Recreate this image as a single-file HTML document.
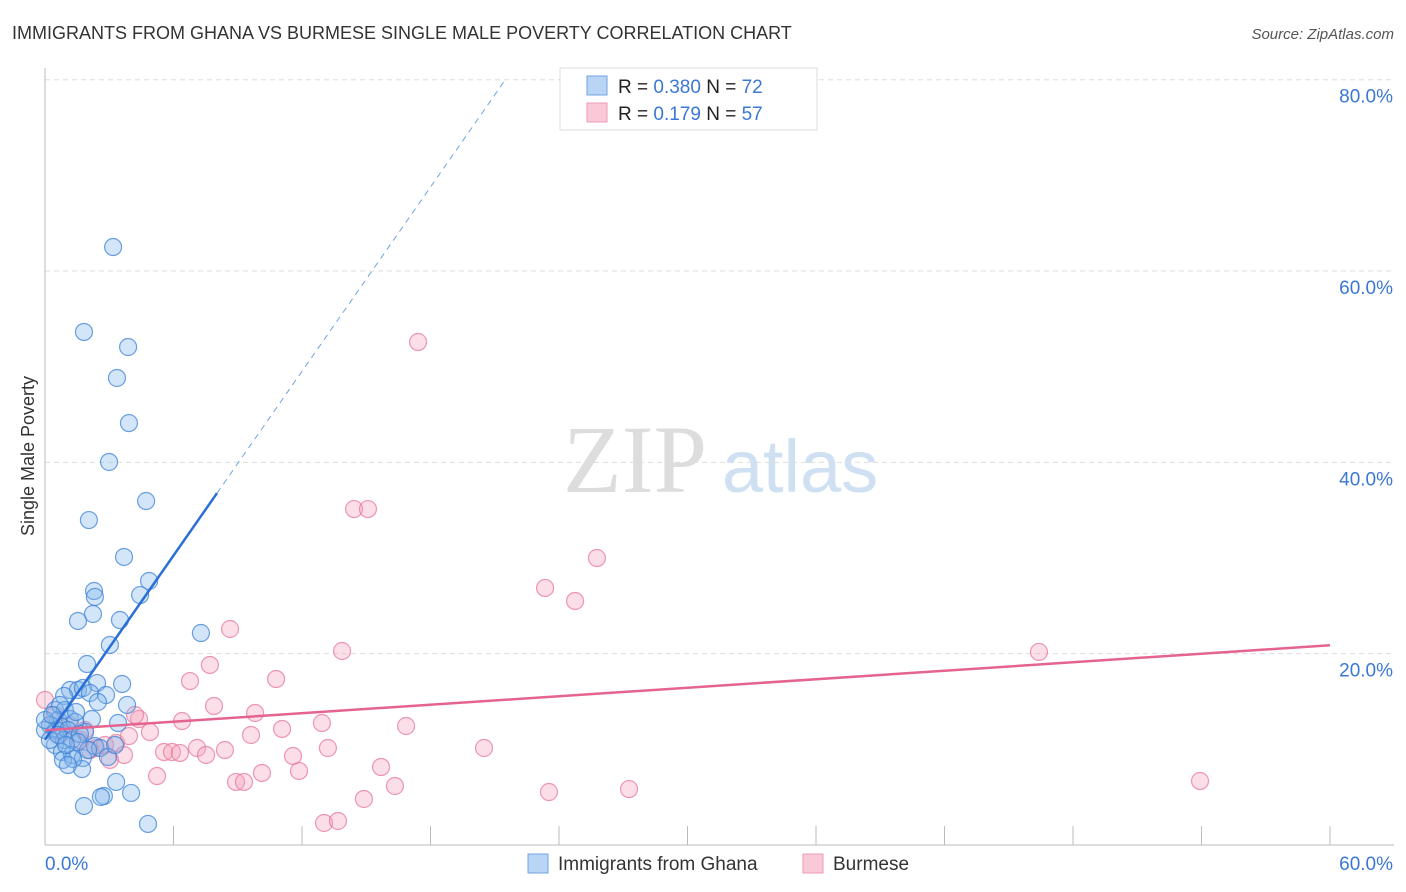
<!DOCTYPE html>
<html><head><meta charset="utf-8"><style>
body{margin:0;background:#fff;font-family:"Liberation Sans",sans-serif}
svg{display:block}
</style></head><body>
<svg id="chart" width="1406" height="892">
<text x="12" y="39" font-size="18" fill="#333">IMMIGRANTS FROM GHANA VS BURMESE SINGLE MALE POVERTY CORRELATION CHART</text>
<text x="1394" y="39" font-size="15" fill="#555" font-style="italic" text-anchor="end">Source: ZipAtlas.com</text>
<text x="0" y="0" transform="translate(34,456) rotate(-90)" font-size="18" fill="#333" text-anchor="middle">Single Male Poverty</text>
<g><text x="635" y="492" font-size="96" fill="#ddd" font-family="Liberation Serif" text-anchor="middle">ZIP</text><text x="800" y="492" font-size="74" fill="#cfe0f3" text-anchor="middle">atlas</text></g>
<g id="grid"></g><g id="axes"></g><g id="pts"></g><g id="trend"></g>
<g>
<rect x="560" y="68" width="257" height="62" fill="#fff" stroke="#ddd"/>
<rect x="587" y="76" width="20" height="19" fill="#b9d4f4" stroke="#6fa3e3"/>
<rect x="587" y="103" width="20" height="19" fill="#fac9d7" stroke="#ee9ab4"/>
<text x="618" y="93" font-size="19" fill="#222">R = <tspan fill="#3b78d4">0.380</tspan>   N = <tspan fill="#3b78d4">72</tspan></text>
<text x="618" y="120" font-size="19" fill="#222">R = <tspan fill="#3b78d4">  0.179</tspan>   N = <tspan fill="#3b78d4">57</tspan></text>
</g>
<g>
<rect x="528" y="854" width="20" height="19" fill="#b9d4f4" stroke="#6fa3e3"/>
<text x="558" y="870" font-size="19" fill="#333">Immigrants from Ghana</text>
<rect x="803" y="854" width="20" height="19" fill="#fac9d7" stroke="#ee9ab4"/>
<text x="833" y="870" font-size="19" fill="#333">Burmese</text>
</g>
</svg>
<script>
const yTicks=[20,40,60,80];
const xTickLabels=["0.0%","60.0%"];
const ghanaPx=[[113,247],[84,332],[128,347],[117,378],[129,423],[109,462],[146,501],[89,520],[124,557],[149,581],[140,595],[94,591],[95,597],[93,614],[78,621],[120,620],[110,645],[201,633],[87,664],[70,690],[78,690],[97,683],[122,684],[83,688],[64,696],[90,693],[106,695],[127,705],[55,710],[65,710],[58,720],[70,719],[92,719],[50,725],[62,727],[75,722],[45,730],[56,730],[68,730],[85,732],[118,723],[55,745],[64,740],[72,740],[80,734],[95,746],[100,748],[62,752],[72,755],[83,758],[108,757],[63,760],[82,769],[73,759],[116,782],[104,796],[101,797],[131,793],[84,806],[148,824],[50,740],[60,705],[45,720],[52,715],[78,742],[88,750],[68,765],[58,735],[98,702],[115,745],[76,712],[66,745]];
const burmesePx=[[418,342],[354,509],[368,509],[597,558],[545,588],[575,601],[230,629],[342,651],[1039,652],[210,665],[190,681],[276,679],[214,706],[255,713],[182,721],[139,719],[322,723],[282,729],[406,726],[150,732],[116,743],[129,736],[164,752],[172,752],[180,753],[197,748],[225,750],[251,735],[206,755],[293,756],[328,748],[484,748],[124,755],[96,748],[299,771],[157,776],[262,773],[236,782],[244,782],[381,767],[395,786],[364,799],[549,792],[629,789],[1200,781],[324,823],[338,821],[45,700],[60,735],[80,740],[105,745],[70,725],[90,750],[55,715],[110,760],[135,715],[85,730]];
// convert read positions to data values (percent)
const ghanaX=ghanaPx.map(p=>+((p[0]-45)/21.417).toFixed(2));
const ghanaY=ghanaPx.map(p=>+((845-p[1])/9.566).toFixed(2));
const burmeseX=burmesePx.map(p=>+((p[0]-45)/21.417).toFixed(2));
const burmeseY=burmesePx.map(p=>+((845-p[1])/9.566).toFixed(2));
const ghanaTrend=[11.0,3.21];
const burmeseTrend=[12.0,0.148];
const sx=v=>45+v*21.417, sy=v=>845-v*9.566;
const NS="http://www.w3.org/2000/svg";
function mk(t,a,par){const e=document.createElementNS(NS,t);for(const k in a)e.setAttribute(k,a[k]);par.appendChild(e);return e;}
const grid=document.getElementById('grid'),axes=document.getElementById('axes'),pts=document.getElementById('pts'),tr=document.getElementById('trend');
yTicks.forEach(v=>{const l=mk('line',{x1:45,x2:1394,y1:sy(v),y2:sy(v),stroke:'#ddd','stroke-dasharray':'5,4'},grid);


const t=mk('text',{x:1393,y:sy(v)+23,'font-size':19,fill:'#3b78d4','text-anchor':'end'},axes);t.textContent=v.toFixed(1)+'%';

});
mk('line',{x1:45,x2:45,y1:68,y2:845,stroke:'#bbb'},axes);
mk('line',{x1:45,x2:1394,y1:845,y2:845,stroke:'#bbb'},axes);
for(let i=1;i<=10;i++){mk('line',{x1:sx(i*6),x2:sx(i*6),y1:826,y2:845,stroke:'#bbb'},axes);}
const t0=mk('text',{x:45,y:870,'font-size':19,fill:'#3b78d4'},axes);t0.textContent=xTickLabels[0];


const t1=mk('text',{x:1393,y:870,'font-size':19,fill:'#3b78d4','text-anchor':'end'},axes);t1.textContent=xTickLabels[1];


burmeseX.forEach((x,i)=>{const c=mk('circle',{cx:sx(x),cy:sy(burmeseY[i]),r:8.5,fill:'rgba(244,160,186,0.35)',stroke:'rgba(230,120,155,0.75)','stroke-width':1.2},pts);

});
ghanaX.forEach((x,i)=>{const c=mk('circle',{cx:sx(x),cy:sy(ghanaY[i]),r:8.5,fill:'rgba(130,180,235,0.35)',stroke:'rgba(60,130,215,0.75)','stroke-width':1.2},pts);

});
const gEnd=8.03, gMax=(80-ghanaTrend[0])/ghanaTrend[1];
let l1=mk('line',{x1:sx(0),y1:sy(ghanaTrend[0]),x2:sx(gEnd),y2:sy(ghanaTrend[0]+ghanaTrend[1]*gEnd),stroke:'#2a6fd6','stroke-width':2.5},tr);


let l2=mk('line',{x1:sx(gEnd),y1:sy(ghanaTrend[0]+ghanaTrend[1]*gEnd),x2:sx(gMax),y2:sy(80),stroke:'#6fa3e3','stroke-width':1,'stroke-dasharray':'6,5'},tr);


let l3=mk('line',{x1:sx(0),y1:sy(burmeseTrend[0]),x2:sx(60),y2:sy(burmeseTrend[0]+burmeseTrend[1]*60),stroke:'#e5638f','stroke-width':2.5},tr);


</script>
</body></html>
